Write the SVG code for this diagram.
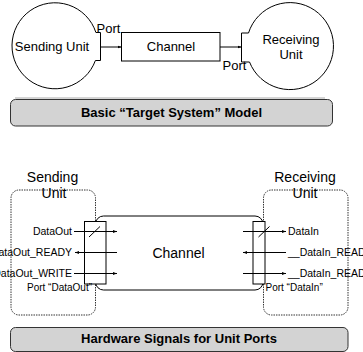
<svg xmlns="http://www.w3.org/2000/svg" width="363" height="352" viewBox="0 0 363 352">
<defs>
<style>
text{font-family:"Liberation Sans",Arial,sans-serif;fill:#000}
.t13{font-size:13px}
.t14{font-size:14px}
.sig{font-size:10.5px}
.pl{font-size:10px}
.ttl{font-size:13px;font-weight:bold}
.ln{stroke:#000;stroke-width:1;fill:none}
.shape{stroke:#000;stroke-width:1;fill:#fff}
.dot{stroke:#333;stroke-width:1;fill:none;stroke-dasharray:1.5 1}
.band{fill:#d3d3d3;stroke:#333;stroke-width:1}
</style>
<marker id="ah" markerUnits="userSpaceOnUse" markerWidth="5" markerHeight="4" refX="4" refY="2" orient="auto">
<path d="M0,0.5 L4,2 L0,3.5 Z" fill="#000"/>
</marker>
</defs>

<g id="sep"><line x1="15" y1="98" x2="325" y2="98" stroke="#aaa" stroke-width="1"/></g>

<g id="sending-top">
<path class="shape" d="M100.5,32.5 L95.9,32.5 A43,43 0 1 0 95.4,60.5 L100.5,60.5 Z"/>
<text class="t13" x="52" y="51" text-anchor="middle">Sending Unit</text>
<text class="t13" x="96.5" y="33.3">Port</text>
</g>

<g id="channel-top">
<rect class="shape" x="121.5" y="32.5" width="98.5" height="28.5"/>
<text class="t13" x="171" y="51" text-anchor="middle">Channel</text>
</g>

<g id="receiving-top">
<path class="shape" d="M241.5,33 L248.5,33 A43.5,43.5 0 1 1 249.5,62 L241.5,62 Z"/>
<text class="t13" x="291" y="43.5" text-anchor="middle">Receiving</text>
<text class="t13" x="291" y="58.5" text-anchor="middle">Unit</text>
<text class="t13" x="222.5" y="69.5">Port</text>
</g>

<g id="title-top">
<rect class="band" x="10.5" y="99.5" width="322" height="26.5" rx="5"/>
<text class="ttl" x="171.5" y="117.3" text-anchor="middle">Basic “Target System” Model</text>
</g>

<g id="sending-unit">
<rect class="dot" x="11" y="190" width="84.5" height="125" rx="8"/>
<text class="t14" x="52.5" y="182" text-anchor="middle">Sending</text>
<text class="t14" x="54" y="197.5" text-anchor="middle">Unit</text>
</g>

<g id="receiving-unit">
<rect class="dot" x="263.5" y="190" width="84.5" height="125" rx="8"/>
<text class="t14" x="305" y="182" text-anchor="middle">Receiving</text>
<text class="t14" x="305" y="197.5" text-anchor="middle">Unit</text>
</g>

<g id="channel">
<rect class="shape" x="95.5" y="216" width="167.5" height="74" rx="8"/>
<text class="t14" x="178.5" y="258" text-anchor="middle">Channel</text>
</g>

<g id="port-dataout">
<rect class="shape" x="84.5" y="221.5" width="21.5" height="62.5"/>
<text class="sig" x="72" y="234.5" text-anchor="end">DataOut</text>
<text class="sig" x="72" y="255.5" text-anchor="end">DataOut_READY</text>
<text class="sig" x="72" y="276.5" text-anchor="end">DataOut_WRITE</text>
<text class="pl" x="92" y="290.5" text-anchor="end">Port “DataOut”</text>
</g>

<g id="port-datain">
<rect class="shape" x="253" y="221.5" width="12" height="62.5"/>
<text class="sig" x="288" y="234.5">DataIn</text>
<text class="sig" x="288" y="255.5">__DataIn_READ</text>
<text class="sig" x="288" y="276.5">__DataIn_READ</text>
<text class="pl" x="265.5" y="290.5">Port “DataIn”</text>
</g>

<g id="connectors">
<line class="ln" x1="100.5" y1="47" x2="121.5" y2="47" marker-end="url(#ah)"/>
<line class="ln" x1="220" y1="47" x2="241.5" y2="47" marker-end="url(#ah)"/>
<line class="ln" x1="74" y1="231.5" x2="117" y2="231.5" marker-end="url(#ah)"/>
<line class="ln" x1="89" y1="237" x2="100" y2="226.5"/>
<line class="ln" x1="117" y1="252.5" x2="75" y2="252.5" marker-end="url(#ah)"/>
<line class="ln" x1="74" y1="273.5" x2="117" y2="273.5" marker-end="url(#ah)"/>
<line class="ln" x1="243" y1="231.5" x2="286" y2="231.5" marker-end="url(#ah)"/>
<line class="ln" x1="258.5" y1="237" x2="269.5" y2="226.5"/>
<line class="ln" x1="286" y1="252.5" x2="243" y2="252.5" marker-end="url(#ah)"/>
<line class="ln" x1="243" y1="273.5" x2="286" y2="273.5" marker-end="url(#ah)"/>
</g>

<g id="title-bottom">
<rect class="band" x="10.5" y="327.5" width="337.5" height="24" rx="5"/>
<text class="ttl" x="179" y="343.3" text-anchor="middle">Hardware Signals for Unit Ports</text>
</g>
</svg>
